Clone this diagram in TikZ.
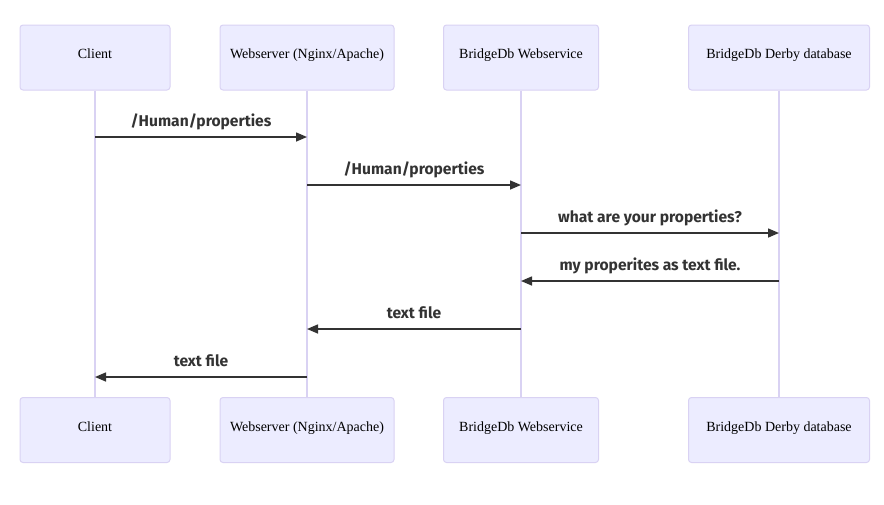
\documentclass[tikz,border=0pt]{standalone}
\usepackage{fontspec}
\setmainfont{Liberation Serif}
\newfontfamily\labelfont{Fira Sans}
\usetikzlibrary{arrows.meta}
\definecolor{actfill}{HTML}{ECECFF}
\definecolor{actline}{HTML}{D9D2F3}
\definecolor{msgcol}{HTML}{333333}
\tikzset{
  actor/.style={draw=actline, fill=actfill, line width=1pt, rounded corners=3pt, minimum height=65pt, inner sep=0pt},
  actortext/.style={font=\fontsize{14}{16}\selectfont, text=black, inner sep=0pt, anchor=base},
  lifeline/.style={draw=actline, line width=1.5pt},
  msg/.style={draw=msgcol, line width=1.5pt, -{Triangle[length=11pt,width=9pt]}},
  msglabel/.style={font=\labelfont\bfseries\fontsize{15.6}{18}\selectfont, text=msgcol, inner sep=0pt, anchor=base}
}
\begin{document}
\begin{tikzpicture}[x=1pt,y=-1pt]
\useasboundingbox (0,0) rectangle (884,504);
% top actors
\node[actor, minimum width=150pt] (c1) at (95,57.5) {};
\node[actor, minimum width=174pt] (w1) at (307,57.5) {};
\node[actor, minimum width=155pt] (b1) at (521,57.5) {};
\node[actor, minimum width=181pt] (d1) at (779,57.5) {};
\node[actortext] (tc1) at (95,58) {Client};
\node[actortext] (tw1) at (307,58) {Webserver (Nginx/Apache)};
\node[actortext] (tb1) at (521,58) {BridgeDb Webservice};
\node[actortext] (td1) at (779,58) {BridgeDb Derby database};
% bottom actors
\node[actor, minimum width=150pt] (c2) at (95,430) {};
\node[actor, minimum width=174pt] (w2) at (307,430) {};
\node[actor, minimum width=155pt] (b2) at (521,430) {};
\node[actor, minimum width=181pt] (d2) at (779,430) {};
\node[actortext] (tc2) at (95,431) {Client};
\node[actortext] (tw2) at (307,431) {Webserver (Nginx/Apache)};
\node[actortext] (tb2) at (521,431) {BridgeDb Webservice};
\node[actortext] (td2) at (779,431) {BridgeDb Derby database};
% lifelines
\draw[lifeline] (c1.south) -- (c2.north);
\draw[lifeline] (w1.south) -- (w2.north);
\draw[lifeline] (b1.south) -- (b2.north);
\draw[lifeline] (d1.south) -- (d2.north);
% message anchor points
\foreach \n/\x in {c/95,w/307,b/521,d/779}{
  \foreach \i/\y in {1/137,2/185,3/233,4/281,5/329,6/377}{
    \coordinate (m\n\i) at (\x,\y);
  }
}
\draw[msg] (mc1) -- (mw1) node[midway, yshift=11pt, msglabel] (l1) {/Human/properties};
\draw[msg] (mw2) -- (mb2) node[midway, yshift=11pt, msglabel] (l2) {/Human/properties};
\draw[msg] (mb3) -- (md3) node[midway, yshift=11pt, msglabel] (l3) {what are your properties?};
\draw[msg] (md4) -- (mb4) node[midway, yshift=11pt, msglabel] (l4) {my properites as text file.};
\draw[msg] (mb5) -- (mw5) node[midway, yshift=11pt, msglabel] (l5) {text file};
\draw[msg] (mw6) -- (mc6) node[midway, yshift=11pt, msglabel] (l6) {text file};
\end{tikzpicture}
\end{document}
